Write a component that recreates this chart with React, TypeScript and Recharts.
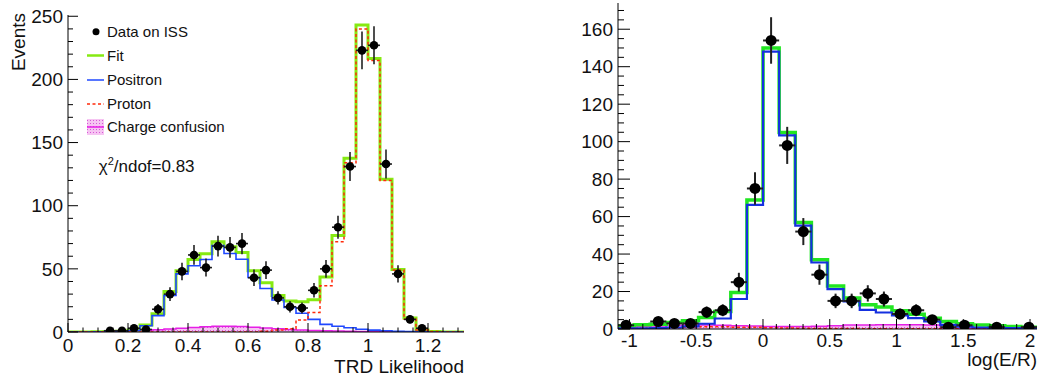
import React from 'react';
import { ComposedChart, Line, Area, Scatter, ErrorBar, XAxis, YAxis } from 'recharts';

const FONT = '"Liberation Sans", Arial, Helvetica, sans-serif';

// ---------------- Left panel: TRD Likelihood ----------------
const L_X_MIN = 0;
const L_BIN_W = 0.04;
const L_X_MAX = 1.32;
const L_Y_MAX = 251;
const L_FIT = [0, 0, 0.2, 0.4, 0.6, 1.5, 5.5, 14.5, 32, 48.5, 57.5, 62, 71.5, 67.5, 63, 48.5, 39, 29, 24.5, 24, 25.5, 43.5, 76.5, 137.5, 243, 216.5, 121, 49.5, 11, 1.5, 0.3, 0, 0];
const L_POSITRON = [0, 0, 0.1, 0.3, 0.5, 1.2, 5, 13, 29, 46, 52.4, 57.4, 68.5, 62.2, 57.6, 43.2, 34.5, 25.3, 19.5, 14.8, 10, 6, 4.5, 3.4, 2.2, 1.5, 1, 0.6, 0.3, 0.1, 0, 0, 0];
const L_PROTON = [0, 0, 0, 0, 0, 0, 0, 0, 0, 0, 0, 0, 0, 0, 0, 0, 0.5, 1.5, 2.5, 9.5, 15.5, 36.6, 71.5, 134, 240, 215, 120, 49, 10, 1.5, 0.3, 0, 0];
const L_CHARGE = [0, 0, 0.2, 0.4, 0.6, 0.9, 1.3, 1.8, 2.4, 3.0, 3.6, 4.2, 4.6, 4.6, 4.4, 3.8, 3.2, 2.6, 2.0, 1.6, 1.2, 0.9, 0.7, 0.5, 0.4, 0.3, 0.2, 0.1, 0, 0, 0, 0, 0];
const L_DATA_BIN = [3, 4, 5, 6, 7, 8, 9, 10, 11, 12, 13, 14, 15, 16, 17, 18, 19, 20, 21, 22, 23, 24, 25, 26, 27, 28, 29];
const L_DATA_Y = [1, 1, 3, 2, 18, 30, 48, 61, 51, 68, 67, 70, 43, 49, 27, 20, 19, 33, 50, 83, 131, 223, 227, 133, 46, 10, 3];
const L_X_MAJOR = [0, 0.2, 0.4, 0.6, 0.8, 1, 1.2];
const L_X_MINOR_STEP = 0.05;
const L_Y_MAJOR = [0, 50, 100, 150, 200, 250];
const L_Y_MINOR_STEP = 10;

// ---------------- Right panel: log(E/R) ----------------
const R_X_MIN = -1.086;
const R_BIN_W = 0.1207;
const R_NBINS = 26;
const R_Y_MAX = 174;
const R_FIT = [1.7, 2.3, 2.6, 3.5, 4.4, 6.1, 9.3, 19.5, 68.9, 150, 104.9, 56.8, 36.9, 23, 16.5, 12.9, 11.7, 9.7, 7.9, 5.8, 4, 2.8, 2.1, 1.7, 1.3, 1.0];
const R_POSITRON = [0.3, 0.4, 0.5, 0.8, 1.4, 2.8, 5.6, 16, 66.3, 148, 103.3, 55.2, 35.5, 21.3, 14.7, 10.2, 8.8, 7.2, 5.8, 4, 2.2, 1.3, 0.8, 0.6, 0.5, 0.4];
const R_PROTON = [0.3, 0.4, 0.5, 0.7, 1.0, 1.2, 1.2, 1.0, 0.9, 0.7, 0.5, 0.4, 0.3, 0.3, 0.3, 0.2, 0.2, 0.2, 0.2, 0.2, 0.1, 0.1, 0.1, 0.1, 0.1, 0.1];
const R_CHARGE = [1.0, 1.3, 1.6, 2.0, 2.4, 2.2, 2.0, 1.8, 1.6, 1.4, 1.3, 1.3, 1.5, 1.8, 2.1, 2.2, 2.3, 2.3, 2.3, 2.2, 0.6, 0.4, 0.3, 0.2, 0.2, 0.1];
const R_DATA_BIN = [0, 2, 3, 4, 5, 6, 7, 8, 9, 10, 11, 12, 13, 14, 15, 16, 17, 18, 19, 20, 21, 23, 25];
const R_DATA_Y = [2, 4, 3, 3, 9, 10, 25, 75, 154, 98, 52, 29, 15, 15, 19, 16, 8, 10, 5, 1, 2, 1, 1];
const R_X_MAJOR = [-1, -0.5, 0, 0.5, 1, 1.5, 2];
const R_X_MINOR_STEP = 0.1;
const R_Y_MAJOR = [0, 20, 40, 60, 80, 100, 120, 140, 160];
const R_Y_MINOR_STEP = 5;

// ---------------- colours ----------------
const L_GREEN = '#86ea12';
const L_BLUE = '#1f48ff';
const R_GREEN = '#22e622';
const R_BLUE = '#1530e0';
const RED = '#ff2a0a';
const MAGENTA = '#e61ee6';

// ---------------- helpers ----------------
const stepData = (vals: number[], x0: number, bw: number) => {
  const pts = vals.map((v, i) => ({ x: x0 + i * bw, y: v }));
  pts.push({ x: x0 + vals.length * bw, y: vals[vals.length - 1] });
  return pts;
};
const pointData = (bins: number[], ys: number[], x0: number, bw: number) =>
  bins.map((b, i) => ({ x: x0 + (b + 0.5) * bw, y: ys[i], ex: bw / 2, ey: Math.sqrt(ys[i]) }));
const tickList = (lo: number, hi: number, step: number) => {
  const out: number[] = [];
  for (let k = Math.ceil(lo / step - 1e-9); k * step <= hi + 1e-9; k++) out.push(parseFloat((k * step).toFixed(4)));
  return out;
};
const fmt = (v: number) => String(parseFloat(v.toFixed(3)));

type Side = 'bottom' | 'top' | 'left' | 'right';
function makeTick(side: Side, majors: number[], majorLen: number, minorLen: number, labels: boolean, labelOffset = 20) {
  return (props: any) => {
    const x = Number(props.x);
    const y = Number(props.y);
    const v = Number(props.payload?.value);
    const major = majors.some((m) => Math.abs(m - v) < 1e-6);
    const len = major ? majorLen : minorLen;
    let x2 = x;
    let y2 = y;
    if (side === 'bottom') y2 = y - len;
    if (side === 'top') y2 = y + len;
    if (side === 'left') x2 = x + len;
    if (side === 'right') x2 = x - len;
    let label: any = null;
    if (labels && major) {
      const txt = fmt(v);
      if (side === 'bottom')
        label = (
          <text x={x} y={y + labelOffset} textAnchor="middle" fontSize={19} fontFamily={FONT} fill="#111">
            {txt}
          </text>
        );
      if (side === 'left')
        label = (
          <text x={x - 5} y={y} dy="0.35em" textAnchor="end" fontSize={19} fontFamily={FONT} fill="#111">
            {txt}
          </text>
        );
    }
    return (
      <g>
        <line x1={x} y1={y} x2={x2} y2={y2} stroke="#000" strokeWidth={1} />
        {label}
      </g>
    );
  };
}

const dotShape = (r: number) => (props: any) => <circle cx={props.cx} cy={props.cy} r={r} fill="#000" />;

// ---------------- data for series ----------------
const L_END = L_X_MIN + L_FIT.length * L_BIN_W;
const lFit = stepData(L_FIT, L_X_MIN, L_BIN_W);
const lPos = stepData(L_POSITRON, L_X_MIN, L_BIN_W);
const lPro = stepData(L_PROTON, L_X_MIN, L_BIN_W);
const lChg = stepData(L_CHARGE, L_X_MIN, L_BIN_W);
const lPts = pointData(L_DATA_BIN, L_DATA_Y, L_X_MIN, L_BIN_W);

const R_X_MAX = R_X_MIN + R_NBINS * R_BIN_W;
const rFit = stepData(R_FIT, R_X_MIN, R_BIN_W);
const rPos = stepData(R_POSITRON, R_X_MIN, R_BIN_W);
const rPro = stepData(R_PROTON, R_X_MIN, R_BIN_W);
const rChg = stepData(R_CHARGE, R_X_MIN, R_BIN_W);
const rPts = pointData(R_DATA_BIN, R_DATA_Y, R_X_MIN, R_BIN_W);

const lXTicks = tickList(L_X_MIN, Math.min(L_X_MAX, L_END), L_X_MINOR_STEP);
const lYTicks = tickList(0, L_Y_MAX, L_Y_MINOR_STEP);
const rXTicks = tickList(R_X_MIN, R_X_MAX, R_X_MINOR_STEP);
const rYTicks = tickList(0, R_Y_MAX, R_Y_MINOR_STEP);

const axisLine = { stroke: '#000', strokeWidth: 1 };

export default function App() {
  return (
    <div style={{ position: 'absolute', left: 0, top: 0, width: 1039, height: 380, background: '#fff', overflow: 'hidden' }}>
      <svg width={0} height={0} style={{ position: 'absolute' }}>
        <defs>
          <pattern id="hatch" width="3" height="3" patternUnits="userSpaceOnUse">
            <rect width="3" height="3" fill="#f6c4f2" />
            <rect width="1" height="1" fill="#d855d8" />
          </pattern>
        </defs>
      </svg>

      {/* Left panel */}
      <div style={{ position: 'absolute', left: 0, top: 0 }}>
        <ComposedChart width={520} height={380} margin={{ top: 15, right: 56, bottom: 0, left: 0 }}>
          <XAxis xAxisId={0} dataKey="x" type="number" domain={[L_X_MIN, L_X_MAX]} allowDataOverflow ticks={lXTicks} interval={0}
            tickLine={false} tickSize={0} tickMargin={0} height={48} axisLine={axisLine}
            tick={makeTick('bottom', L_X_MAJOR, 9, 4.5, true, 20)} />
          <XAxis xAxisId="top" orientation="top" dataKey="x" type="number" domain={[L_X_MIN, L_X_MAX]} allowDataOverflow ticks={lXTicks} interval={0}
            tickLine={false} tickSize={0} tickMargin={0} height={0} axisLine={axisLine}
            tick={makeTick('top', L_X_MAJOR, 9, 4.5, false)} />
          <YAxis yAxisId={0} dataKey="y" type="number" domain={[0, L_Y_MAX]} allowDataOverflow ticks={lYTicks} interval={0}
            tickLine={false} tickSize={0} tickMargin={0} width={68} axisLine={axisLine}
            tick={makeTick('left', L_Y_MAJOR, 10, 5, true)} />
          <YAxis yAxisId="right" orientation="right" dataKey="y" type="number" domain={[0, L_Y_MAX]} allowDataOverflow ticks={lYTicks} interval={0}
            tickLine={false} tickSize={0} tickMargin={0} width={0} axisLine={axisLine}
            tick={makeTick('right', L_Y_MAJOR, 10, 5, false)} />
          <Area data={lChg} dataKey="y" type="stepAfter" stroke={MAGENTA} strokeWidth={1.5} fill="url(#hatch)" fillOpacity={1}
            baseValue={0} dot={false} activeDot={false} isAnimationActive={false} />
          <Line data={lFit} dataKey="y" type="stepAfter" stroke={L_GREEN} strokeWidth={3} dot={false} activeDot={false} isAnimationActive={false} />
          <Line data={lPos} dataKey="y" type="stepAfter" stroke={L_BLUE} strokeWidth={1.6} dot={false} activeDot={false} isAnimationActive={false} />
          <Line data={lPro} dataKey="y" type="stepAfter" stroke={RED} strokeWidth={1.5} strokeDasharray="3 2.5" dot={false} activeDot={false} isAnimationActive={false} />
          <Scatter data={lPts} dataKey="y" shape={dotShape(4.3)} isAnimationActive={false}>
            <ErrorBar dataKey="ey" direction="y" width={0} stroke="#222" strokeWidth={1.6} />
            <ErrorBar dataKey="ex" direction="x" width={0} stroke="#222" strokeWidth={1.6} />
          </Scatter>
        </ComposedChart>
      </div>

      {/* Right panel */}
      <div style={{ position: 'absolute', left: 520, top: 0 }}>
        <ComposedChart width={519} height={380} margin={{ top: 3, right: 2, bottom: 0, left: 0 }}>
          <XAxis xAxisId={0} dataKey="x" type="number" domain={[R_X_MIN, R_X_MAX]} allowDataOverflow ticks={rXTicks} interval={0}
            tickLine={false} tickSize={0} tickMargin={0} height={51} axisLine={axisLine}
            tick={makeTick('bottom', R_X_MAJOR, 10, 5, true, 18)} />
          <XAxis xAxisId="top" orientation="top" dataKey="x" type="number" domain={[R_X_MIN, R_X_MAX]} allowDataOverflow ticks={rXTicks} interval={0}
            tickLine={false} tickSize={0} tickMargin={0} height={0} axisLine={axisLine}
            tick={makeTick('top', R_X_MAJOR, 10, 5, false)} />
          <YAxis yAxisId={0} dataKey="y" type="number" domain={[0, R_Y_MAX]} allowDataOverflow ticks={rYTicks} interval={0}
            tickLine={false} tickSize={0} tickMargin={0} width={98} axisLine={axisLine}
            tick={makeTick('left', R_Y_MAJOR, 12, 6, true)} />
          <YAxis yAxisId="right" orientation="right" dataKey="y" type="number" domain={[0, R_Y_MAX]} allowDataOverflow ticks={rYTicks} interval={0}
            tickLine={false} tickSize={0} tickMargin={0} width={0} axisLine={axisLine}
            tick={makeTick('right', R_Y_MAJOR, 12, 6, false)} />
          <Area data={rChg} dataKey="y" type="stepAfter" stroke={MAGENTA} strokeWidth={1.5} fill="url(#hatch)" fillOpacity={1}
            baseValue={0} dot={false} activeDot={false} isAnimationActive={false} />
          <Line data={rPro} dataKey="y" type="stepAfter" stroke={RED} strokeWidth={1.5} strokeDasharray="3 2.5" dot={false} activeDot={false} isAnimationActive={false} />
          <Line data={rFit} dataKey="y" type="stepAfter" stroke={R_GREEN} strokeWidth={3.5} dot={false} activeDot={false} isAnimationActive={false} />
          <Line data={rPos} dataKey="y" type="stepAfter" stroke={R_BLUE} strokeWidth={2.2} dot={false} activeDot={false} isAnimationActive={false} />
          <Scatter data={rPts} dataKey="y" shape={dotShape(5.5)} isAnimationActive={false}>
            <ErrorBar dataKey="ey" direction="y" width={0} stroke="#222" strokeWidth={2} />
            <ErrorBar dataKey="ex" direction="x" width={0} stroke="#222" strokeWidth={2} />
          </Scatter>
        </ComposedChart>
      </div>

      {/* Titles and legend */}
      <svg width={1039} height={380} style={{ position: 'absolute', left: 0, top: 0, pointerEvents: 'none' }} fontFamily={FONT}>
        <text x={25} y={13} transform="rotate(-90 25 13)" textAnchor="end" fontSize={19} fill="#111">Events</text>
        <text x={464} y={373} textAnchor="end" fontSize={19} fill="#111">TRD Likelihood</text>
        <text x={1037} y={366} textAnchor="end" fontSize={19} fill="#111">log(E/R)</text>

        <circle cx={96} cy={31.7} r={3.5} fill="#000" />
        <text x={107} y={31.7} dy="0.35em" fontSize={15} fill="#111">Data on ISS</text>
        <line x1={87} x2={104} y1={55.5} y2={55.5} stroke={L_GREEN} strokeWidth={2.5} />
        <text x={107} y={55.5} dy="0.35em" fontSize={15} fill="#111">Fit</text>
        <line x1={87} x2={104} y1={80} y2={80} stroke={L_BLUE} strokeWidth={1.5} />
        <text x={107} y={80} dy="0.35em" fontSize={15} fill="#111">Positron</text>
        <line x1={87} x2={104} y1={104} y2={104} stroke={RED} strokeWidth={1.5} strokeDasharray="3 2.5" />
        <text x={107} y={104} dy="0.35em" fontSize={15} fill="#111">Proton</text>
        <rect x={87} y={119} width={17} height={16} fill="url(#hatch)" />
        <line x1={87} x2={104} y1={127} y2={127} stroke={MAGENTA} strokeWidth={1.5} />
        <text x={107} y={127} dy="0.35em" fontSize={15} fill="#111">Charge confusion</text>
        <text x={98.7} y={172} fontSize={17} fill="#111">
          χ<tspan dy={-7} fontSize={11}>2</tspan><tspan dy={7} fontSize={17}>/ndof=0.83</tspan>
        </text>
      </svg>
    </div>
  );
}
